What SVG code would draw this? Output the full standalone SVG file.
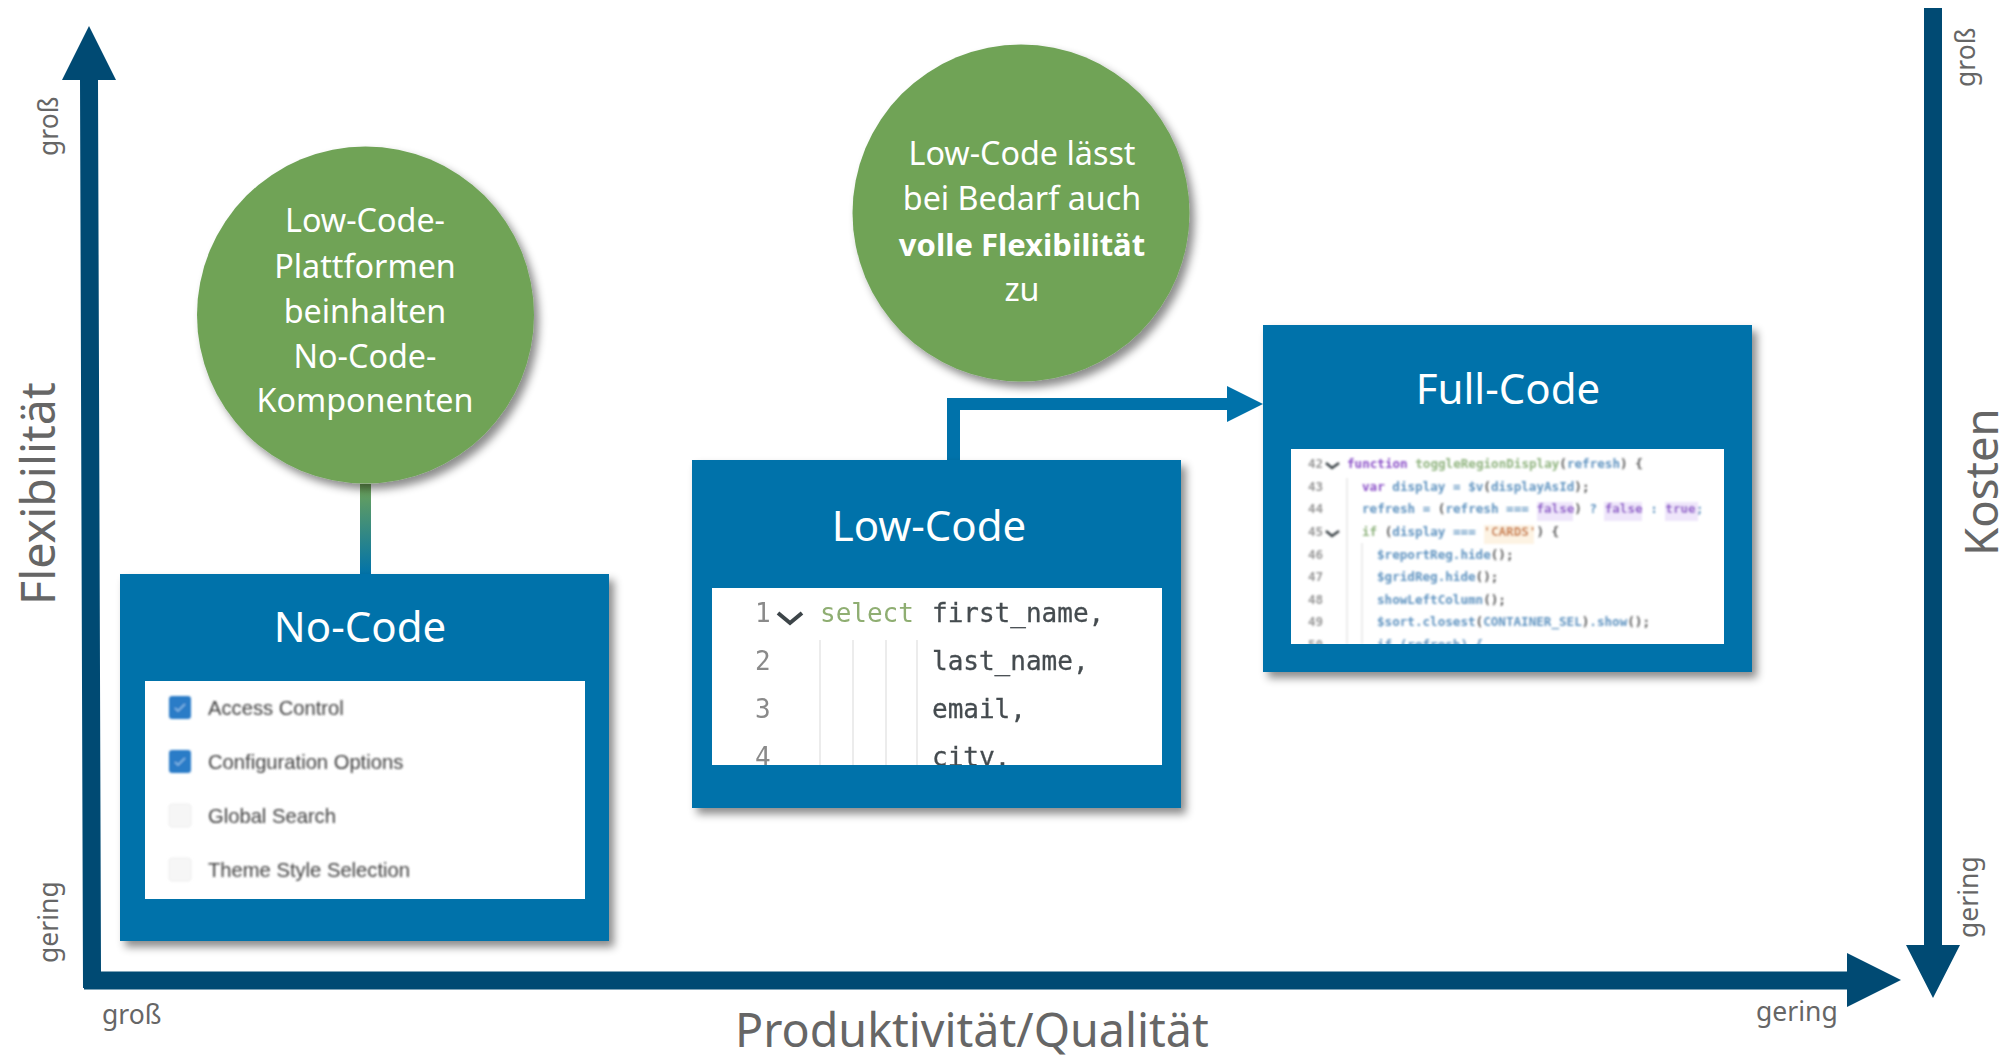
<svg xmlns="http://www.w3.org/2000/svg" width="2007" height="1057" viewBox="0 0 2007 1057">
<style>
text{font-family:"Noto Sans","Open Sans","Liberation Sans",sans-serif}
.box{fill:#0072aa;filter:url(#sh)}
.circ{fill:#6fa357;filter:url(#sh)}
.white{fill:#fff}
.title{font-size:42px;fill:#fff;text-anchor:middle}
.ct{font-size:32.300px;fill:#fff;text-anchor:middle}
.big{font-size:46.600px;fill:#666}
.small{font-size:26.500px;fill:#666}
.ui{font-family:"Liberation Sans",sans-serif;font-size:20.200px;fill:#3f3f3f}
.m1{font-family:"DejaVu Sans Mono",monospace;font-size:26px;fill:#454c50;stroke:#454c50;stroke-width:.3}
.m2{font-family:"DejaVu Sans Mono",monospace;font-size:12.600px;fill:#5f93c0;font-weight:700}
.chev{fill:none;stroke:#3c4448;stroke-width:4}
.guide{stroke:#e6e6e6;stroke-width:1.500}
</style>
<defs>
<filter id="sh" x="-10%" y="-10%" width="125%" height="125%"><feDropShadow dx="5" dy="6" stdDeviation="4" flood-color="#000" flood-opacity=".45"/></filter>
<filter id="bl" x="-5%" y="-5%" width="110%" height="110%"><feGaussianBlur stdDeviation="0.9"/></filter>
<filter id="bl2" x="-5%" y="-5%" width="110%" height="110%"><feGaussianBlur stdDeviation="0.5"/></filter>
<linearGradient id="cg" x1="0" y1="0" x2="0" y2="1"><stop offset="0" stop-color="#6fa357"/><stop offset="1" stop-color="#0072aa"/></linearGradient>
<clipPath id="c1"><rect x="712" y="588" width="450" height="177"/></clipPath>
<clipPath id="c2"><rect x="1291" y="449" width="433" height="195"/></clipPath>
</defs>
<rect width="2007" height="1057" fill="#fff"/>
<g id="connectors">
<path id="axis-left-bottom" d="M80 80H62L89 26L116 80H98L101 971.500H1847V953L1901 980L1847 1007V989.500H84V988H83Z" fill="#004a73"/>
<path id="axis-right" d="M1924 8H1942V945H1960L1933 998L1906 945H1924Z" fill="#004a73"/>
<rect id="link-nocode" x="360" y="484" width="11" height="91" fill="url(#cg)"/>
<path id="link-lowcode" d="M947 461V398H1227V386L1263 404L1227 422V410H960V461Z" fill="#0072aa"/>
</g>
<g id="circle-left">
<circle class="circ" cx="365.500" cy="315" r="168.500"/>
<text class="ct" x="365" y="232">Low-Code-</text>
<text class="ct" x="365" y="278">Plattformen</text>
<text class="ct" x="365" y="323">beinhalten</text>
<text class="ct" x="365" y="368">No-Code-</text>
<text class="ct" x="365" y="412">Komponenten</text>
</g>
<g id="circle-right">
<circle class="circ" cx="1021" cy="213" r="168.500"/>
<text class="ct" x="1022" y="165">Low-Code lässt</text>
<text class="ct" x="1022" y="210">bei Bedarf auch</text>
<text class="ct" x="1022" y="256" font-weight="700" style="font-size:31px">volle Flexibilität</text>
<text class="ct" x="1022" y="301">zu</text>
</g>
<g id="no-code">
<rect class="box" x="120" y="574" width="489" height="367"/>
<text class="title" x="360" y="642">No-Code</text>
<rect class="white" x="145" y="681" width="440" height="218"/>
<g filter="url(#bl)">
<rect x="169" y="696" width="22" height="23" rx="3" fill="#2a7cc7"/>
<rect x="169" y="750" width="22" height="23" rx="3" fill="#2a7cc7"/>
<rect x="169" y="804" width="22" height="23" rx="3" fill="#f6f6f6" stroke="#eee"/>
<rect x="169" y="858" width="22" height="23" rx="3" fill="#f6f6f6" stroke="#eee"/>
<path d="M175 708l3 3 7-7M175 762l3 3 7-7" fill="none" stroke="#8fc0ea" stroke-width="1.500"/>
<text class="ui" x="208" y="715">Access Control</text>
<text class="ui" x="208" y="769">Configuration Options</text>
<text class="ui" x="208" y="823">Global Search</text>
<text class="ui" x="208" y="877">Theme Style Selection</text>
</g>
</g>
<g id="low-code">
<rect class="box" x="692" y="460" width="489" height="348"/>
<text class="title" x="929" y="541">Low-Code</text>
<rect class="white" x="712" y="588" width="450" height="177"/>
<g clip-path="url(#c1)"><g filter="url(#bl2)">
<path class="guide" d="M820 640V765M853 640V765M886 640V765M917 640V765"/>
<path class="chev" d="M778 613L790 623L802 613"/>
<text class="m1" x="755" y="622" style="fill:#8a8a8a;stroke:none">1</text>
<text class="m1" x="755" y="670" style="fill:#8a8a8a;stroke:none">2</text>
<text class="m1" x="755" y="718" style="fill:#8a8a8a;stroke:none">3</text>
<text class="m1" x="755" y="766" style="fill:#8a8a8a;stroke:none">4</text>
<text class="m1" x="820" y="622" style="fill:#8fae72;stroke:none">select</text>
<text class="m1" x="932" y="622">first_name,</text>
<text class="m1" x="932" y="670">last_name,</text>
<text class="m1" x="932" y="718">email,</text>
<text class="m1" x="932" y="766">city,</text>
</g></g>
</g>
<g id="full-code">
<rect class="box" x="1263" y="325" width="489" height="347"/>
<text class="title" x="1508" y="404">Full-Code</text>
<rect class="white" x="1291" y="449" width="433" height="195"/>
<g clip-path="url(#c2)"><g filter="url(#bl)">
<rect x="1537" y="502" width="36" height="19" fill="#efe6fb"/>
<rect x="1604" y="502" width="38" height="19" fill="#efe6fb"/>
<rect x="1665" y="502" width="33" height="19" fill="#efe6fb"/>
<rect x="1484" y="525" width="50" height="19" fill="#fdf3e3"/>
<path class="guide" d="M1347 478V644M1362 543V644"/>
<path class="chev" style="stroke-width:2.500" d="M1326 463L1332 468L1339 463M1326 531L1332 536L1339 531"/>
<text class="m2" x="1308" y="468" style="fill:#999">42</text>
<text class="m2" x="1308" y="491" style="fill:#999">43</text>
<text class="m2" x="1308" y="513" style="fill:#999">44</text>
<text class="m2" x="1308" y="536" style="fill:#999">45</text>
<text class="m2" x="1308" y="559" style="fill:#999">46</text>
<text class="m2" x="1308" y="581" style="fill:#999">47</text>
<text class="m2" x="1308" y="604" style="fill:#999">48</text>
<text class="m2" x="1308" y="626" style="fill:#999">49</text>
<text class="m2" x="1308" y="649" style="fill:#999">50</text>
<text class="m2" x="1347" y="468"><tspan fill="#8a4fc7">function</tspan> <tspan fill="#8fb37e">toggleRegionDisplay</tspan><tspan fill="#555">(</tspan>refresh<tspan fill="#555">) {</tspan></text>
<text class="m2" x="1362" y="491"><tspan fill="#8a4fc7">var</tspan> display = $v<tspan fill="#555">(</tspan>displayAsId<tspan fill="#555">);</tspan></text>
<text class="m2" x="1362" y="513">refresh = <tspan fill="#555">(</tspan>refresh === <tspan fill="#8a4fc7">false</tspan><tspan fill="#555">)</tspan> ? <tspan fill="#8a4fc7">false</tspan> : <tspan fill="#8a4fc7">true</tspan>;</text>
<text class="m2" x="1362" y="536"><tspan fill="#8fb37e">if</tspan> <tspan fill="#555">(</tspan>display === <tspan fill="#c8763a">'CARDS'</tspan><tspan fill="#555">) {</tspan></text>
<text class="m2" x="1377" y="559">$reportReg.hide<tspan fill="#555">();</tspan></text>
<text class="m2" x="1377" y="581">$gridReg.hide<tspan fill="#555">();</tspan></text>
<text class="m2" x="1377" y="604">showLeftColumn<tspan fill="#555">();</tspan></text>
<text class="m2" x="1377" y="626">$sort.closest<tspan fill="#555">(</tspan>CONTAINER_SEL<tspan fill="#555">)</tspan>.show<tspan fill="#555">();</tspan></text>
<text class="m2" x="1377" y="649">if (refresh) {</text>
</g></g>
</g>
<g id="axis-labels">
<text class="big" transform="translate(55 605) rotate(-90)">Flexibilität</text>
<text class="big" x="735" y="1047">Produktivität/Qualität</text>
<text class="big" transform="translate(1998 556) rotate(-90)" style="font-size:45.500px">Kosten</text>
<text class="small" transform="translate(58 156) rotate(-90)">groß</text>
<text class="small" transform="translate(58 963) rotate(-90)">gering</text>
<text class="small" x="102" y="1024">groß</text>
<text class="small" x="1756" y="1021">gering</text>
<text class="small" transform="translate(1975 87) rotate(-90)">groß</text>
<text class="small" transform="translate(1978 938) rotate(-90)">gering</text>
</g>
</svg>
